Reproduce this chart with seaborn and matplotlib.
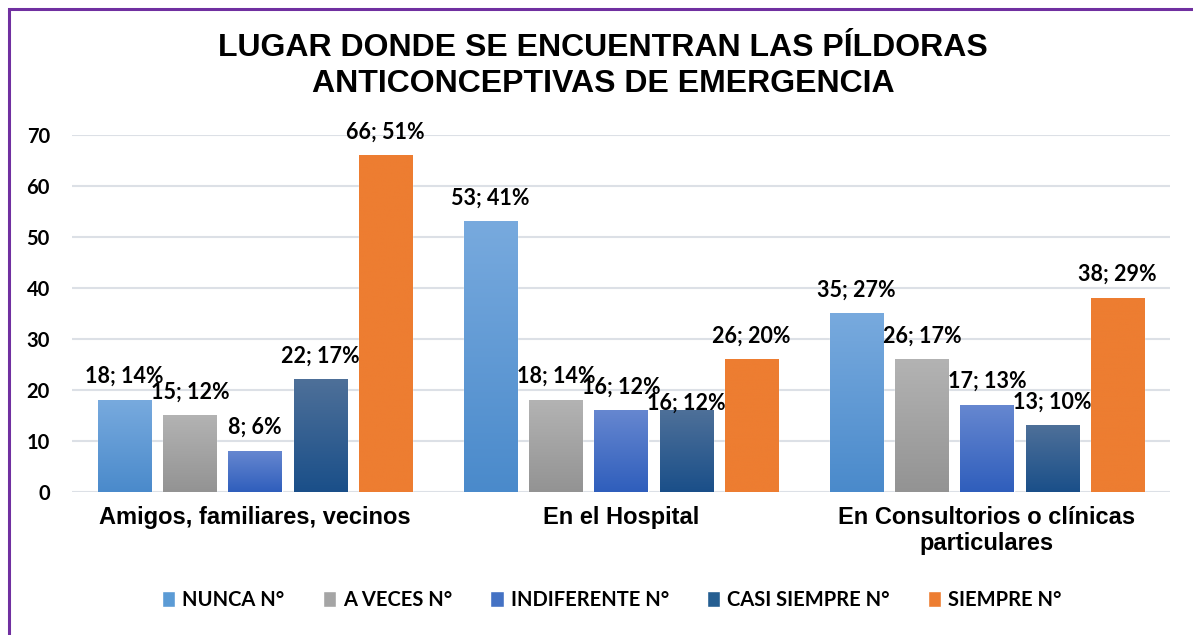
import numpy as np
import pandas as pd
import matplotlib
matplotlib.use("Agg")
import matplotlib.pyplot as plt
import seaborn as sns
from matplotlib.colors import LinearSegmentedColormap
from matplotlib.patches import Rectangle
from matplotlib.font_manager import FontProperties

# datos
lugares = ["Amigos, familiares, vecinos", "En el Hospital",
           "En Consultorios o clínicas\nparticulares"]
series = ["NUNCA N°", "A VECES N°", "INDIFERENTE N°", "CASI SIEMPRE N°", "SIEMPRE N°"]

nunca = [18, 53, 35]
a_veces = [15, 18, 26]
indiferente = [8, 16, 17]
casi_siempre = [22, 16, 13]
siempre = [66, 26, 38]

pct_nunca = [14, 41, 27]
pct_a_veces = [12, 14, 17]
pct_indiferente = [6, 12, 13]
pct_casi_siempre = [17, 12, 10]
pct_siempre = [51, 20, 29]

titulo = "LUGAR DONDE SE ENCUENTRAN LAS PÍLDORAS\nANTICONCEPTIVAS DE EMERGENCIA"

# colores (base, arriba, abajo)
colores = ["#5B9BD5", "#A5A5A5", "#4472C4", "#255E91", "#ED7D31"]
degradados = [("#78AADE", "#4A8ACB"), ("#B3B3B3", "#939393"), ("#6687D0", "#2F5EBC"),
              ("#4E7099", "#1A4F89"), ("#ED7D31", "#ED7D31")]

valores = [nunca, a_veces, indiferente, casi_siempre, siempre]
porcentajes = [pct_nunca, pct_a_veces, pct_indiferente, pct_casi_siempre, pct_siempre]

filas = []
for s, vals, pcts in zip(series, valores, porcentajes):
    for l, v, p in zip(lugares, vals, pcts):
        filas.append({"lugar": l, "serie": s, "n": v, "pct": p})
df = pd.DataFrame(filas)

sns.set_theme(style="white")
plt.rcParams["text.color"] = "black"

fig = plt.figure(figsize=(11.93, 6.35), dpi=100)
ax = fig.add_axes([72 / 1193, 143 / 635, 1098 / 1193, 357 / 635])

sns.barplot(data=df, x="lugar", y="n", hue="serie", order=lugares, hue_order=series,
            palette=colores, saturation=1, width=0.89, gap=0.185, ax=ax, legend=True)

# relleno degradado de cada barra
grad = np.linspace(0, 1, 256).reshape(-1, 1)
for cont, (arriba, abajo) in zip(ax.containers, degradados):
    cmap = LinearSegmentedColormap.from_list("g", [abajo, arriba])
    for bar in cont:
        x0, w, h = bar.get_x(), bar.get_width(), bar.get_height()
        ax.imshow(grad, cmap=cmap, origin="lower", aspect="auto",
                  extent=[x0, x0 + w, 0, h], zorder=bar.get_zorder() + 0.1)

# etiquetas de datos
ajuste = {("En el Hospital", "CASI SIEMPRE N°"): 5}
for cont, s in zip(ax.containers, series):
    for bar, l in zip(cont, lugares):
        fila = df[(df.lugar == l) & (df.serie == s)].iloc[0]
        off = ajuste.get((l, s), 17)
        ax.annotate(f"{fila.n}; {fila.pct}%", (bar.get_x() + bar.get_width() / 2, bar.get_height()),
                    xytext=(0, off), textcoords="offset points", ha="center", va="center",
                    fontsize=15.5, fontweight="bold", family="Lato", color="black", zorder=10)

ax.set_xlim(-0.5, 2.5)
ax.set_ylim(0, 70)
ax.set_yticks(range(0, 71, 10))
ax.set_yticklabels([str(v) for v in range(0, 71, 10)], fontsize=14.5, fontweight="bold", family="Lato")
ax.set_xticks(range(3))
ax.set_xticklabels(lugares, fontsize=17, fontweight="bold", family="Liberation Sans", linespacing=1.15)
ax.tick_params(axis="y", length=0, pad=16, colors="black")
ax.tick_params(axis="x", length=0, pad=10, colors="black")
ax.set_xlabel("")
ax.set_ylabel("")
ax.yaxis.grid(True, color="#DCE0E6", lw=1.5)
ax.set_axisbelow(True)
for sp in ax.spines.values():
    sp.set_visible(False)

# leyenda
handles, labels = ax.get_legend_handles_labels()
ax.legend_.remove()
fig.legend(handles, labels, loc="center", bbox_to_anchor=(612 / 1193, 35 / 635), ncol=5,
           frameon=False, prop=FontProperties(family="Lato", weight="bold", size=14.5),
           handlelength=0.65, handleheight=0.8, handletextpad=0.35, columnspacing=1.9)

fig.text(603 / 1193, 1 - 66 / 635, titulo, ha="center", va="center", fontsize=23,
         fontweight="bold", family="Liberation Sans", linespacing=1.25, color="black")

# borde morado
fig.add_artist(Rectangle((9 / 1193, -0.1), 1.2, 1.1 - 8.5 / 635, transform=fig.transFigure,
                         fill=False, edgecolor="#7030A0", lw=2.2))

fig.savefig("out.png", dpi=100)
